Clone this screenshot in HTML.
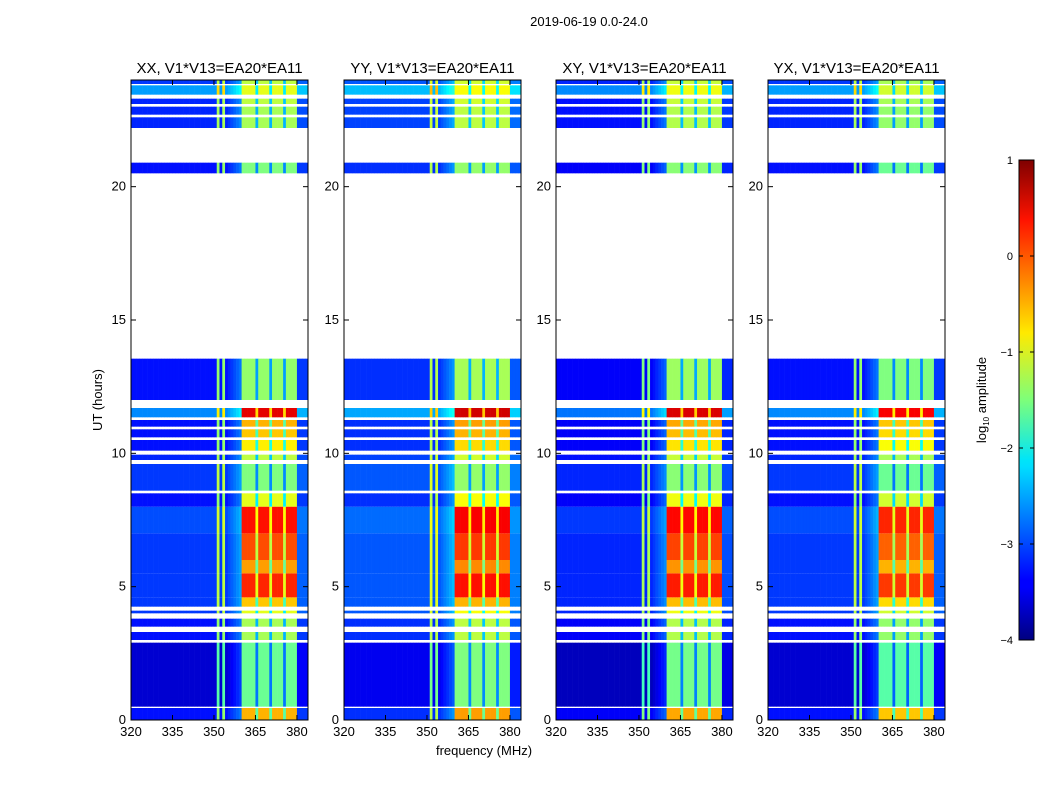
<!DOCTYPE html>
<html><head><meta charset="utf-8"><style>
body{margin:0;background:#fff;}
svg text{font-family:"Liberation Sans",sans-serif;fill:#000;}
</style></head><body>
<svg id="fig" width="1050" height="800" xmlns="http://www.w3.org/2000/svg">
<defs><linearGradient id="jet" x1="0" y1="1" x2="0" y2="0">
<stop offset="0" stop-color="#00007f"/><stop offset="0.11" stop-color="#0000ff"/><stop offset="0.125" stop-color="#0000ff"/>
<stop offset="0.36" stop-color="#00ddff"/><stop offset="0.375" stop-color="#00e5f8"/><stop offset="0.5" stop-color="#7dff7a"/>
<stop offset="0.64" stop-color="#ffea00"/><stop offset="0.875" stop-color="#ff1300"/><stop offset="1" stop-color="#7f0000"/>
</linearGradient></defs>
<text x="589" y="26" font-size="13" text-anchor="middle">2019-06-19 0.0-24.0</text>
<text transform="translate(102,400) rotate(-90)" font-size="13" text-anchor="middle">UT (hours)</text>
<text x="484" y="755" font-size="13" text-anchor="middle">frequency (MHz)</text>
<g id="panels"></g>
<g>
<rect x="1019" y="160" width="15" height="480" fill="url(#jet)" stroke="#000" stroke-width="1"/>
<text transform="translate(986,400) rotate(-90)" font-size="13" text-anchor="middle">log<tspan font-size="8" dy="3">10</tspan><tspan dy="-3"> amplitude</tspan></text>
<g id="cbticks"></g>
</g>
</svg>
<script>
// data
const panelTitles = ["XX, V1*V13=EA20*EA11","YY, V1*V13=EA20*EA11","XY, V1*V13=EA20*EA11","YX, V1*V13=EA20*EA11"];
const panelBgOffset = [0, 0.15, -0.1, 0];
const panelBandOffset = [0, 0.1, 0.05, -0.1];
const segStart = [0.0,0.5,3.0,3.5,4.0,4.25,4.6,5.5,6.0,7.0,8.0,8.6,9.75,10.1,10.6,11.0,11.35,12.0,20.5,22.2,22.7,23.1,23.45,23.85];
const segEnd   = [0.45,2.9,3.3,3.8,4.1,4.6,5.5,6.0,7.0,8.0,8.5,9.6,9.95,10.5,10.9,11.25,11.7,13.55,20.9,22.6,23.0,23.3,23.8,24.0];
const segBg    = [-3.3,-3.6,-3.3,-3.3,-3.1,-3.1,-3.1,-3.1,-3.1,-3.0,-3.3,-3.1,-3.2,-3.3,-3.3,-3.3,-2.7,-3.3,-3.3,-3.2,-3.2,-3.2,-2.6,-3.1];
const segBand  = [-0.5,-1.6,-1.3,-1.3,-1.0,-0.6,0.2,-0.4,0.0,0.3,-1.0,-1.5,-1.2,-0.8,-0.6,-0.5,0.5,-1.4,-1.5,-1.3,-1.3,-1.2,-1.0,-1.2];
// per 1-MHz channel from 320 to 384
const chanFreq = []; for(let f=320; f<384; f++) chanFreq.push(f);
const inBand   = chanFreq.map(f => f>=360 && f<380 ? 1:0);
const chanAdj  = chanFreq.map(f => {
  if(f===351||f===353) return 1.9;
  if(f===365||f===370||f===375) return -1.2;
  if(f>=355&&f<=359) return (f-354)*0.1;
  if(f>=380) return 0.2;
  return 0;
});
const yTicks = [0,5,10,15,20];
const xTicks = [320,335,350,365,380];
const cbTicks = [-4,-3,-2,-1,0,1];

const NS="http://www.w3.org/2000/svg";
function el(t,a,p){const e=document.createElementNS(NS,t);for(const k in a)e.setAttribute(k,a[k]);p.appendChild(e);return e;}
function jet(v){let t=(v+4)/5;t=Math.max(0,Math.min(1,t));const c=x=>Math.round(255*Math.max(0,Math.min(1,x)));
 return `rgb(${c(1.5-Math.abs(4*t-3))},${c(1.5-Math.abs(4*t-2))},${c(1.5-Math.abs(4*t-1))})`;}
const panelX=[131,344,556,768], PW=177, Y0=720, PY=80;
const yS=h=>Y0-(Y0-PY)*h/24;
const panels=document.getElementById('panels');
panelX.forEach((px,pi)=>{
  const xS=f=>px+(f-320)*PW/64;
  const g=el('g',{},panels);
  
  
  segStart.forEach((s,si)=>{
    chanFreq.forEach((f,ci)=>{
      const v = inBand[ci] ? segBand[si]+panelBandOffset[pi]+chanAdj[ci] : segBg[si]+panelBgOffset[pi]+chanAdj[ci];
      const r=el('rect',{x:xS(f),y:yS(segEnd[si]),width:PW/64+0.3,height:yS(s)-yS(segEnd[si]),fill:jet(v)},g);
      
      
    });
  });
  const fr=el('rect',{x:px,y:PY,width:PW,height:Y0-PY,fill:'none',stroke:'#000','stroke-width':1},g);
  
  
  const tt=el('text',{x:px+PW/2,y:73,'font-size':15,'text-anchor':'middle'},g);tt.textContent=panelTitles[pi];
  
  
  yTicks.forEach(h=>{const y=yS(h);
    el('line',{x1:px,x2:px+5,y1:y,y2:y,stroke:'#000'},g);el('line',{x1:px+PW-5,x2:px+PW,y1:y,y2:y,stroke:'#000'},g);
    const t=el('text',{x:px-5,y:y+4,'font-size':13,'text-anchor':'end'},g);t.textContent=h;
    
    });
  xTicks.forEach(f=>{const x=xS(f);
    el('line',{x1:x,x2:x,y1:Y0,y2:Y0-5,stroke:'#000'},g);el('line',{x1:x,x2:x,y1:PY,y2:PY+5,stroke:'#000'},g);
    const t=el('text',{x:x,y:Y0+16,'font-size':13,'text-anchor':'middle'},g);t.textContent=f;
    
    });
});
const cb=document.getElementById('cbticks');
cbTicks.forEach(v=>{const y=640-(v+4)*96;
  el('line',{x1:1019,x2:1023,y1:y,y2:y,stroke:'#000'},cb);el('line',{x1:1030,x2:1034,y1:y,y2:y,stroke:'#000'},cb);
  const t=el('text',{x:1013,y:y+4,'font-size':11,'text-anchor':'end'},cb);t.textContent=v<0?'\u2212'+(-v):v;
  
  });
</script>
</body></html>
